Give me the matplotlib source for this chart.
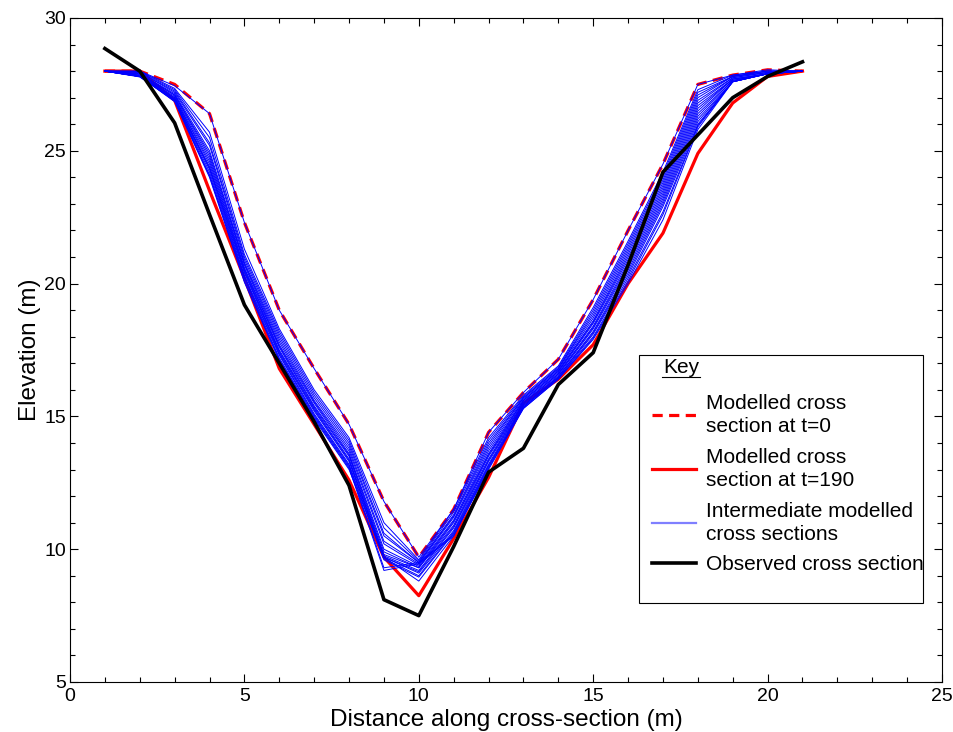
import numpy as np
import matplotlib
matplotlib.use("Agg")
import matplotlib.pyplot as plt
from matplotlib.ticker import MultipleLocator
from matplotlib.lines import Line2D
from matplotlib.patches import Rectangle

plt.rcParams['font.family'] = ['Liberation Sans', 'DejaVu Sans']

distance = list(range(1, 22))

observed = [28.85, 28.0, 26.05, 22.6, 19.2, 17.0, 14.8, 12.4, 8.1, 7.5, 10.1,
            12.9, 13.8, 16.2, 17.4, 20.7, 24.2, 25.6, 27.0, 27.8, 28.35]

modelled_t0 = [28.0, 28.0, 27.5, 26.4, 22.3, 19.0, 16.8, 14.7, 11.8, 9.7, 11.5,
               14.4, 15.9, 17.15, 19.4, 22.0, 24.5, 27.5, 27.85, 28.05, 28.0]

modelled_t190 = [28.0, 28.0, 26.9, 23.5, 20.2, 16.8, 14.7, 12.6, 9.7, 8.25, 10.4,
                 12.7, 15.5, 16.4, 17.7, 20.0, 21.9, 24.9, 26.8, 27.8, 28.0]

# intermediate sections: one list per distance value, one entry per time step
intermediate_by_distance = [
    [28.0] * 18,
    [28.0, 28.0, 27.98, 27.95, 27.95, 27.9, 27.9, 27.88, 27.85, 27.85, 27.82, 27.8, 27.8, 27.8, 27.78, 27.8, 27.8, 27.8],
    [27.45, 27.35, 27.3, 27.25, 27.2, 27.15, 27.1, 27.1, 27.05, 27.0, 27.0, 26.95, 26.95, 26.9, 26.9, 26.88, 26.87, 26.85],
    [26.4, 25.7, 25.5, 25.3, 25.2, 25.0, 24.9, 24.8, 24.7, 24.6, 24.5, 24.4, 24.35, 24.3, 24.2, 24.1, 24.05, 24.0],
    [22.3, 21.3, 21.1, 21.0, 20.9, 20.8, 20.75, 20.7, 20.6, 20.55, 20.5, 20.45, 20.4, 20.3, 20.25, 20.2, 20.1, 20.05],
    [19.0, 18.3, 18.2, 18.1, 18.0, 17.9, 17.8, 17.7, 17.65, 17.6, 17.5, 17.45, 17.4, 17.35, 17.3, 17.2, 17.15, 17.1],
    [16.8, 16.0, 15.9, 15.8, 15.7, 15.6, 15.55, 15.5, 15.4, 15.35, 15.3, 15.25, 15.2, 15.1, 15.05, 15.0, 14.95, 14.9],
    [14.7, 14.2, 14.1, 14.0, 13.9, 13.8, 13.7, 13.6, 13.55, 13.5, 13.4, 13.35, 13.3, 13.2, 13.15, 13.1, 13.05, 13.0],
    [11.8, 11.0, 10.8, 10.6, 10.5, 10.3, 10.2, 10.0, 9.9, 9.8, 9.75, 9.7, 9.7, 9.65, 9.6, 9.3, 9.2, 9.7],
    [9.7, 9.6, 9.55, 9.5, 9.5, 9.45, 9.4, 9.35, 9.3, 9.3, 9.2, 9.15, 9.1, 9.0, 8.95, 9.5, 9.45, 8.8],
    [11.5, 11.5, 11.4, 11.3, 11.25, 11.2, 11.1, 11.05, 11.0, 10.9, 10.85, 10.8, 10.7, 10.65, 10.6, 10.55, 10.5, 10.5],
    [14.4, 14.2, 14.1, 14.0, 13.9, 13.8, 13.7, 13.6, 13.55, 13.5, 13.4, 13.35, 13.3, 13.2, 13.15, 13.1, 13.05, 13.0],
    [15.9, 15.8, 15.75, 15.7, 15.7, 15.65, 15.6, 15.6, 15.55, 15.5, 15.5, 15.45, 15.4, 15.4, 15.35, 15.35, 15.3, 15.3],
    [17.15, 16.9, 16.85, 16.8, 16.8, 16.75, 16.7, 16.7, 16.65, 16.6, 16.6, 16.55, 16.5, 16.5, 16.45, 16.45, 16.4, 16.4],
    [19.4, 19.1, 19.0, 18.9, 18.8, 18.7, 18.6, 18.55, 18.5, 18.4, 18.35, 18.3, 18.2, 18.15, 18.1, 18.0, 17.95, 17.9],
    [22.0, 21.6, 21.5, 21.4, 21.3, 21.2, 21.1, 21.0, 20.9, 20.8, 20.7, 20.6, 20.5, 20.4, 20.3, 20.2, 20.1, 20.0],
    [24.5, 24.2, 24.1, 24.0, 23.9, 23.8, 23.7, 23.6, 23.5, 23.4, 23.3, 23.2, 23.1, 23.0, 22.9, 22.7, 22.6, 22.4],
    [27.5, 27.3, 27.2, 27.1, 27.0, 26.9, 26.8, 26.7, 26.6, 26.5, 26.4, 26.3, 26.2, 26.1, 26.0, 25.95, 25.9, 25.8],
    [27.85, 27.85, 27.8, 27.8, 27.8, 27.75, 27.75, 27.7, 27.7, 27.7, 27.65, 27.65, 27.6, 27.6, 27.6, 27.6, 27.6, 27.6],
    [28.05, 28.0, 28.0, 28.0, 27.95, 27.95, 27.95, 27.9, 27.9, 27.9, 27.9, 27.9, 27.9, 27.9, 27.9, 27.9, 27.9, 27.9],
    [28.0] * 18,
]

labels = ["Modelled cross\nsection at t=0",
          "Modelled cross\nsection at t=190",
          "Intermediate modelled\ncross sections",
          "Observed cross section"]
legend_title = "Key"

x_ticks = [0, 5, 10, 15, 20, 25]
y_ticks = [5, 10, 15, 20, 25, 30]

fig = plt.figure(figsize=(9.54, 7.32), dpi=100)
ax = fig.add_axes([70 / 954, 50 / 732, 872 / 954, 664 / 732])

inter = np.array(intermediate_by_distance).T
h_t0, = ax.plot(distance, modelled_t0, color='red', lw=2.3, ls=(0, (3.2, 2.0)), zorder=3)
h_t190, = ax.plot(distance, modelled_t190, color='red', lw=2.3, zorder=2)
for row in inter:
    ax.plot(distance, row, color='blue', lw=0.7, zorder=4)
h_obs, = ax.plot(distance, observed, color='black', lw=2.6, zorder=5)
h_int = Line2D([], [], color='#7f7fff', lw=1.6)

ax.set_xlim(0, 25)
ax.set_ylim(5, 30)
ax.set_xticks(x_ticks)
ax.set_yticks(y_ticks)
ax.xaxis.set_minor_locator(MultipleLocator(1))
ax.yaxis.set_minor_locator(MultipleLocator(1))
ax.tick_params(which='both', direction='in', top=True, right=True, labelsize=14)
ax.tick_params(axis='x', pad=4)
ax.tick_params(axis='y', pad=3)
ax.tick_params(which='major', length=6, width=0.8)
ax.tick_params(which='minor', length=3.5, width=0.8)
for s in ax.spines.values():
    s.set_linewidth(0.8)

ax.set_xlabel("Distance along cross-section (m)", fontsize=17.5, labelpad=3)
ax.set_ylabel("Elevation (m)", fontsize=17.5, labelpad=2)

# legend frame (square box with extra space below the entries)
ax.add_patch(Rectangle((0.6525, 0.119), 0.3255, 0.3735, transform=ax.transAxes,
                       facecolor='white', edgecolor='black', lw=0.8, zorder=9))

key = ax.text(0.680, 0.4729, legend_title, transform=ax.transAxes, fontsize=15,
              ha='left', va='center', zorder=11)

leg = ax.legend([h_t0, h_t190, h_int, h_obs], labels,
                loc='upper left', bbox_to_anchor=(0.6555, 0.450),
                frameon=False, fontsize=15,
                handlelength=2.1, handletextpad=0.5, labelspacing=0.55,
                borderpad=0.5, borderaxespad=0)
leg.set_zorder(10)
for t in leg.get_texts():
    t.set_linespacing(1.3)

fig.canvas.draw()
tb = key.get_window_extent()
inv = fig.transFigure.inverted()
(x0, y0), (x1, y1) = inv.transform([[tb.x0 - 1, tb.y0], [tb.x1 + 1, tb.y0]])
fig.add_artist(Line2D([x0, x1], [y0 + 0.001, y0 + 0.001], color='black', lw=0.8, zorder=11))

fig.savefig("out.png", dpi=100)
